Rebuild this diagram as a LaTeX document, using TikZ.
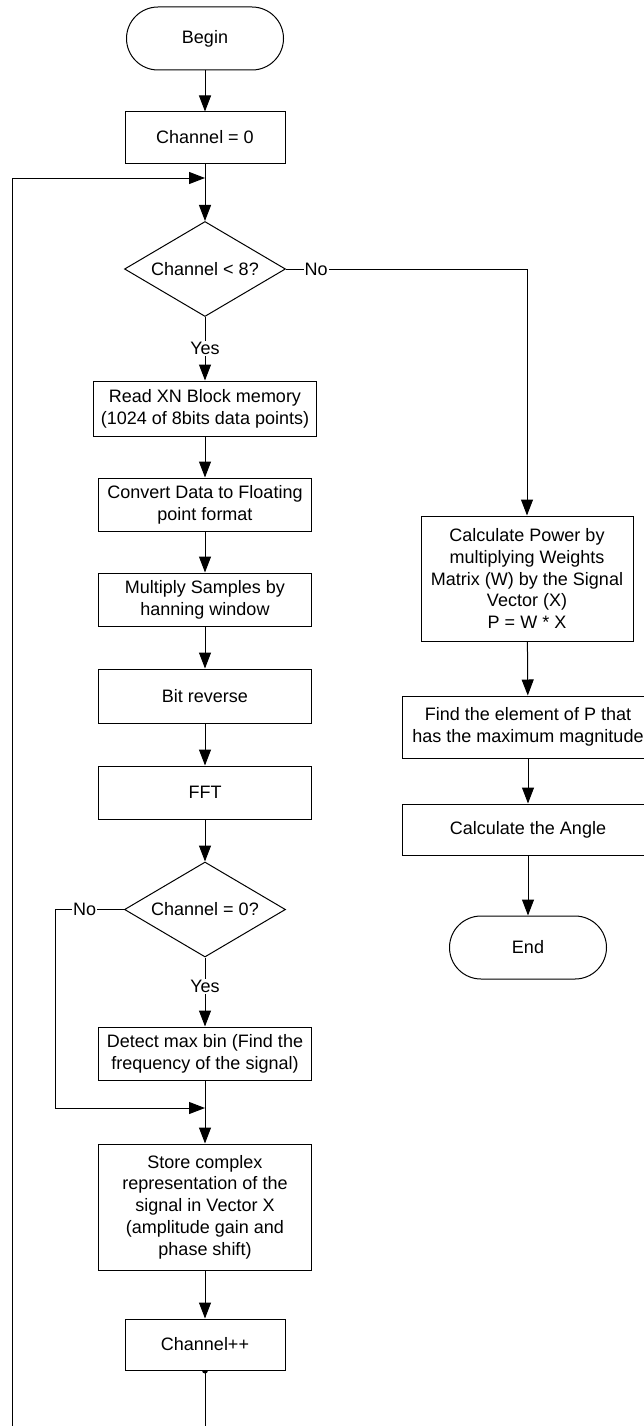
\documentclass[tikz,border=0pt]{standalone}
\usepackage{fontspec}
\setmainfont{Liberation Sans}
\usetikzlibrary{arrows.meta,shapes.geometric}
\begin{document}
\begin{tikzpicture}[x=1pt, y=-1pt,
  font=\fontsize{18}{21.7}\selectfont,
  line width=1pt,
  >={Triangle[length=16pt,width=12pt]},
  base/.style={draw, fill=white, align=center, inner sep=0pt},
  proc/.style={base, rectangle, minimum width=213pt, minimum height=53pt},
  narrow/.style={proc, minimum width=160pt, minimum height=51pt},
  term/.style={base, rectangle, rounded corners=31.5pt, minimum width=157pt, minimum height=63pt},
  decision/.style={base, diamond, aspect=1.7, minimum width=161pt, minimum height=95pt},
  lbl/.style={fill=white, inner sep=1pt},
]
\useasboundingbox (0,0) rectangle (644,1426);

% main loop column
\node[term]   (begin)  at (205,38.5)  {Begin};
\node[narrow] (ch0)    at (205,137.5) {Channel = 0};
\node[decision] (d1)   at (205,269)   {Channel < 8?};
\node[proc, minimum width=223pt, minimum height=55pt] (read) at (205,408.5)
  {Read XN Block memory\\(1024 of 8bits data points)};
\node[proc] (conv)     at (205,504.5) {Convert Data to Floating\\point format};
\node[proc] (mult)     at (205,599.5) {Multiply Samples by\\hanning window};
\node[proc, minimum height=54pt] (bitrev) at (205,696) {Bit reverse};
\node[proc] (fft)      at (205,792.5) {FFT};
\node[decision] (d2)   at (205,909.5) {Channel = 0?};
\node[proc] (detect)   at (205,1053.5) {Detect max bin (Find the\\frequency of the signal)};
\node[proc, minimum height=126pt] (store) at (205,1207)
  {Store complex\\representation of the\\signal in Vector X\\(amplitude gain and\\phase shift)};
\node[narrow] (chpp)   at (205,1344.5) {Channel++};

% result column
\node[proc, minimum width=212pt, minimum height=125pt] (calcpow) at (527,578.5)
  {Calculate Power by\\multiplying Weights\\Matrix (W) by the Signal\\Vector (X)\\P = W * X};
\node[proc, minimum width=252pt, minimum height=62pt] (findel) at (528,727)
  {Find the element of P that\\has the maximum magnitude};
\node[proc, minimum width=252pt, minimum height=51pt] (angle) at (528,829.5)
  {Calculate the Angle};
\node[term] (end) at (528,947.5) {End};

% junction points
\coordinate (m1) at (205,178);
\coordinate (m2) at (205,1108);
\coordinate (nleft) at (55,1108);
\coordinate (lb) at (12,1450);
\coordinate (lt) at (12,178);

% connectors
\draw[->] (begin) -- (ch0);
\draw[->] (ch0) -- (d1);
\draw[->] (d1) -- node[lbl] {Yes} (read);
\draw[->] (read) -- (conv);
\draw[->] (conv) -- (mult);
\draw[->] (mult) -- (bitrev);
\draw[->] (bitrev) -- (fft);
\draw[->] (fft) -- (d2);
\draw[->] (d2) -- node[lbl, pos=0.42] {Yes} (detect);
\draw[->] (detect) -- (store);
\draw[->] (store) -- (chpp);
\draw[->] (d2.west) -- node[lbl, pos=0.57] {No} (d2.west -| nleft) -- (nleft) -- (m2);
\draw[->] (d1.east) -- node[lbl, pos=0.125] {No} (d1.east -| calcpow.north) -- (calcpow.north);
\draw[->] (calcpow) -- (findel);
\draw[->] (findel) -- (angle);
\draw[->] (angle) -- (end);
\draw[->] (chpp.south) -- (chpp.south |- lb) -- (lb) -- (lt) -- (m1);
\fill (chpp.south) ++(-3,0) arc[start angle=180, end angle=0, radius=3] -- cycle;
\end{tikzpicture}
\end{document}
